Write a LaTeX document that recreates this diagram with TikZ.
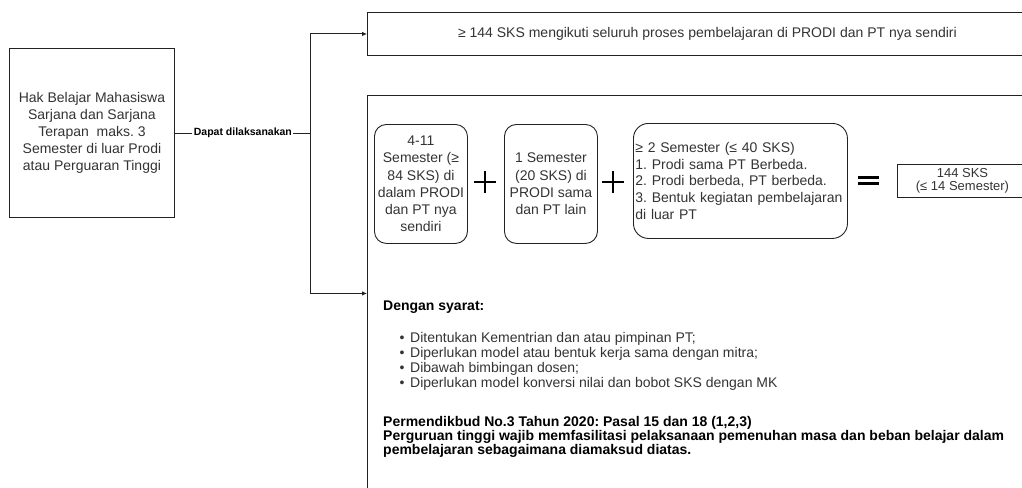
\documentclass[tikz,border=0pt]{standalone}
\usepackage{fontspec}
\setmainfont{Liberation Sans}
\usetikzlibrary{arrows.meta}
\definecolor{tx}{HTML}{333333}
\definecolor{ln}{HTML}{222222}
\frenchspacing
\begin{document}
\frenchspacing
\begin{tikzpicture}[x=1pt,y=-1pt,
  every node/.style={text=tx, inner sep=0pt},
  sqbox/.style={draw=ln, line width=0.9pt, anchor=north west},
  rbox/.style={draw=ln, line width=0.9pt, rounded corners=12pt, anchor=north west},
  conn/.style={draw=ln, line width=0.9pt},
  arr/.style={conn, -{Latex[length=5pt,width=4.5pt]}},
  body/.style={font=\fontsize{14}{16.8}\selectfont},
  boldtx/.style={font=\bfseries\fontsize{14}{16}\selectfont, text=black, anchor=base west},
  itemtx/.style={font=\fontsize{14}{16}\selectfont, anchor=base west},
  symb/.style={draw=black, line width=1.6pt},
]
\useasboundingbox (0,0) rectangle (1022,487);
\clip (0,0) rectangle (1022,487);

% left box
\node[sqbox, minimum width=165pt, minimum height=169pt, align=center, body] (hak) at (9,48)
  {Hak Belajar Mahasiswa\\Sarjana dan Sarjana\\Terapan\ \ maks. 3\\Semester di luar Prodi\\atau Perguaran Tinggi};

% right boxes
\node[sqbox, minimum width=680pt, minimum height=43pt, body] (top) at (367,12)
  {≥ 144 SKS mengikuti seluruh proses pembelajaran di PRODI dan PT nya sendiri};
\node[sqbox, minimum width=680pt, minimum height=396pt] (big) at (367,95) {};

% connectors
\path (hak.east) ++(136,0) coordinate (j);
\draw[conn] (hak.east) -- node[fill=white, inner sep=1.5pt, font=\bfseries\fontsize{10.5}{12}\selectfont, text=black] (lbl) {Dapat dilaksanakan} (j);
\draw[arr] (j) |- (top.west);
\draw[arr] (j) |- (big.west);

% inner boxes
\node[rbox, minimum width=93pt, minimum height=119pt, align=center, font=\fontsize{14}{17.2}\selectfont] (b1) at (374,124)
  {4-11\\Semester (≥\\84 SKS) di\\dalam PRODI\\dan PT nya\\sendiri};
\node[rbox, minimum width=93pt, minimum height=119pt, align=center, font=\fontsize{14}{17.2}\selectfont] (b2) at (504,124)
  {1 Semester\\(20 SKS) di\\PRODI sama\\dan PT lain};
\node[rbox, rounded corners=15pt, minimum width=214pt, minimum height=115pt, text width=210pt, align=left, font=\fontsize{14}{16.7}\selectfont] (b3) at (633,123)
  {≥ 2 Semester (≤ 40 SKS)\\1. Prodi sama PT Berbeda.\\2. Prodi berbeda, PT berbeda.\\3. Bentuk kegiatan pembelajaran\\di luar PT};
\node[sqbox, minimum width=130pt, minimum height=33pt, align=center, font=\fontsize{13}{12.5}\selectfont] (b4) at (897,164)
  {144 SKS\\(≤ 14 Semester)};

% plus and equal signs
\coordinate (p1) at (485,182);
\coordinate (p2) at (613,182);
\coordinate (eq) at (868,180.5);
\foreach \p in {p1,p2}{
  \draw[symb] ([xshift=-11pt]\p) -- ([xshift=11pt]\p);
  \draw[symb] ([yshift=-11pt]\p) -- ([yshift=11pt]\p);
}
\draw[draw=black, line width=2.6pt] ([shift={(-10.5pt,3pt)}]eq) -- ([shift={(10.5pt,3pt)}]eq);
\draw[draw=black, line width=2.6pt] ([shift={(-10.5pt,-3pt)}]eq) -- ([shift={(10.5pt,-3pt)}]eq);

% conditions
\node[boldtx] (syarat) at (383,310) {Dengan syarat:};
\node[itemtx] (i1) at (399.5,342) {\makebox[10.5pt][l]{•}Ditentukan Kementrian dan atau pimpinan PT;};
\node[itemtx] (i2) at (399.5,357) {\makebox[10.5pt][l]{•}Diperlukan model atau bentuk kerja sama dengan mitra;};
\node[itemtx] (i3) at (399.5,372) {\makebox[10.5pt][l]{•}Dibawah bimbingan dosen;};
\node[itemtx] (i4) at (399.5,387) {\makebox[10.5pt][l]{•}Diperlukan model konversi nilai dan bobot SKS dengan MK};
\node[boldtx] (r1) at (383,426) {Permendikbud No.3 Tahun 2020: Pasal 15 dan 18 (1,2,3)};
\node[boldtx] (r2) at (383,440) {Perguruan tinggi wajib memfasilitasi pelaksanaan pemenuhan masa dan beban belajar dalam};
\node[boldtx] (r3) at (383,454) {pembelajaran sebagaimana diamaksud diatas.};
\end{tikzpicture}
\end{document}
